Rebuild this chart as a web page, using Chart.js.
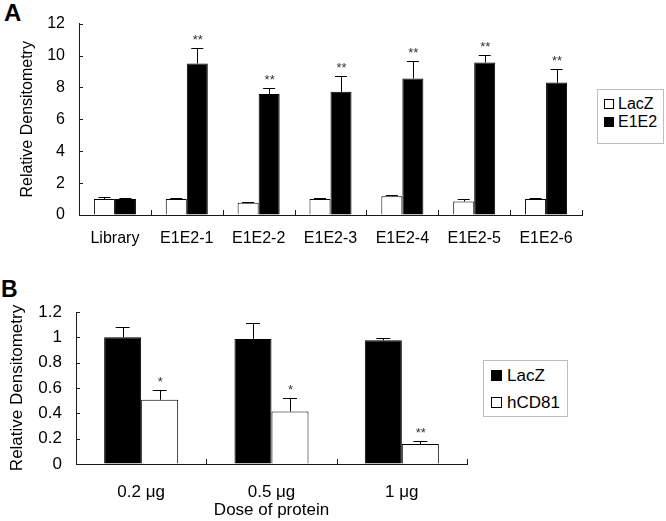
<!DOCTYPE html>
<html>
<head>
<meta charset="utf-8">
<script src="https://cdn.jsdelivr.net/npm/chart.js@4.4.2/dist/chart.umd.min.js"></script>
<style>
  html, body { margin: 0; padding: 0; background: #fff; }
  body { width: 666px; height: 521px; position: relative; overflow: hidden;
         font-family: "Liberation Sans", Arial, sans-serif; color: #000; }
  .panel { position: absolute; left: 0; width: 666px; }
  .tag { position: absolute; font-weight: bold; line-height: 1; }
  .legend { position: absolute; box-sizing: border-box; border: 1px solid #bdbdbd; background: #fff; }
  .legend .row { display: flex; align-items: center; white-space: nowrap; }
  .legend .sw { box-sizing: border-box; border: 1px solid #000; flex: none; }
</style>
</head>
<body>
<div class="tag" style="left:4px;top:1px;font-size:24px">A</div>
<div class="tag" style="left:1px;top:278px;font-size:23px">B</div>

<div class="panel" style="top:0;height:260px"><canvas id="chart-a" width="666" height="260"></canvas></div>
<div class="panel" style="top:270px;height:251px"><canvas id="chart-b" width="666" height="251"></canvas></div>

<div class="legend" id="legend-a" style="left:597px;top:89px;width:67px;height:55px;padding:5px 0 0 6px;font-size:16px;line-height:18px"></div>
<div class="legend" id="legend-b" style="left:483px;top:360px;width:85px;height:57px;padding:1px 0 0 7px;font-size:17px;line-height:27px"></div>

<script>
// ── Panel A data ─────────────────────────────────────────────────────────
const groupsA = ['Library', 'E1E2-1', 'E1E2-2', 'E1E2-3', 'E1E2-4', 'E1E2-5', 'E1E2-6'];
const lacZA = [1.0, 1.0, 0.77, 1.0, 1.17, 0.85, 1.01];
const lacZErrA = [0.15, 0.05, 0.05, 0.05, 0.1, 0.15, 0.07];
const e1e2A = [1.0, 9.5, 7.58, 7.72, 8.56, 9.56, 8.3];
const e1e2ErrA = [0.07, 1.0, 0.4, 1.0, 1.07, 0.5, 0.85];
const e1e2StarsA = ['', '**', '**', '**', '**', '**', '**'];

// ── Panel B data ─────────────────────────────────────────────────────────
const dosesB = ['0.2 μg', '0.5 μg', '1 μg'];
const lacZB = [1.0, 0.987, 0.976];
const lacZErrB = [0.085, 0.13, 0.02];
const cd81B = [0.507, 0.415, 0.158];
const cd81ErrB = [0.08, 0.11, 0.02];
const cd81StarsB = ['*', '*', '**'];

const FONT = '"Liberation Sans", Arial, sans-serif';
const AXIS = '#1a1a1a';

// error bars (upper only) + significance stars
const errorBars = {
  id: 'errorBars',
  afterDatasetsDraw(chart, args, opts) {
    const { ctx } = chart;
    const y = chart.scales.y;
    ctx.save();
    chart.data.datasets.forEach((ds, di) => {
      chart.getDatasetMeta(di).data.forEach((bar, i) => {
        const top = y.getPixelForValue(ds.data[i]);
        const end = y.getPixelForValue(ds.data[i] + ds.err[i]);
        ctx.strokeStyle = '#000';
        ctx.lineWidth = 1;
        ctx.beginPath();
        ctx.moveTo(Math.round(bar.x) + 0.5, top);
        ctx.lineTo(Math.round(bar.x) + 0.5, Math.round(end) + 0.5);
        ctx.moveTo(bar.x - opts.cap / 2, Math.round(end) + 0.5);
        ctx.lineTo(bar.x + opts.cap / 2, Math.round(end) + 0.5);
        ctx.stroke();
        const s = ds.stars && ds.stars[i];
        if (s) {
          ctx.fillStyle = '#333';
          ctx.font = `${opts.starSize}px ${FONT}`;
          ctx.textAlign = 'center';
          ctx.textBaseline = 'alphabetic';
          ctx.fillText(s, bar.x + 0.5, end - opts.starGap);
        }
      });
    });
    ctx.restore();
  },
};

// tick marks pointing into the plot
const innerTicks = {
  id: 'innerTicks',
  afterDraw(chart, args, opts) {
    const { ctx, chartArea } = chart;
    const x = chart.scales.x, y = chart.scales.y;
    ctx.save();
    ctx.strokeStyle = AXIS;
    ctx.lineWidth = 1;
    ctx.beginPath();
    y.ticks.forEach((t, i) => {
      const py = Math.round(y.getPixelForTick(i)) + 0.5;
      ctx.moveTo(chartArea.left, py);
      ctx.lineTo(chartArea.left + opts.len, py);
    });
    for (let i = 1; i <= x.ticks.length; i++) {
      const px = Math.round(x.getPixelForValue(i - 0.5)) + 0.5;
      ctx.moveTo(px, chartArea.bottom);
      ctx.lineTo(px, chartArea.bottom - opts.len - 1);
    }
    ctx.stroke();
    ctx.restore();
  },
};

function makeChart(id, cfg) {
  return new Chart(document.getElementById(id), {
    type: 'bar',
    data: { labels: cfg.labels, datasets: cfg.datasets },
    plugins: [errorBars, innerTicks],
    options: {
      responsive: false, animation: false, devicePixelRatio: 1,
      layout: { padding: cfg.padding },
      datasets: { bar: { categoryPercentage: cfg.catPct, barPercentage: 1, borderSkipped: 'bottom' } },
      plugins: {
        legend: { display: false }, tooltip: { enabled: false },
        errorBars: { cap: cfg.cap, starSize: cfg.starSize, starGap: cfg.starGap },
        innerTicks: { len: 4 },
      },
      scales: {
        x: {
          grid: { display: true, drawOnChartArea: false, drawTicks: false },
          border: { color: AXIS, width: 1 },
          ticks: { color: '#000', font: { family: FONT, size: cfg.fontSize }, padding: cfg.xPad, maxRotation: 0, autoSkip: false },
          title: cfg.xTitle ? { display: true, text: cfg.xTitle, color: '#000', font: { family: FONT, size: cfg.fontSize }, padding: { top: 0, bottom: 0 } } : { display: false },
          afterFit(s) { s.height = cfg.xHeight; },
        },
        y: {
          min: 0, max: cfg.yMax,
          grid: { display: true, drawOnChartArea: false, drawTicks: false },
          border: { color: AXIS, width: 1 },
          ticks: { stepSize: cfg.yStep, color: '#000', font: { family: FONT, size: cfg.fontSize }, padding: 14,
                   callback: v => String(Math.round(v * 10) / 10) },
          title: { display: true, text: 'Relative Densitometry', color: '#000', font: { family: FONT, size: cfg.fontSize }, padding: { top: cfg.yTitlePad, bottom: 0 } },
          afterFit(s) { s.width = cfg.yWidth; },
        },
      },
    },
  });
}

const datasetsA = [
  { label: 'LacZ', data: lacZA, err: lacZErrA, backgroundColor: '#fff', borderColor: '#000', borderWidth: 1 },
  { label: 'E1E2', data: e1e2A, err: e1e2ErrA, stars: e1e2StarsA, backgroundColor: '#000', borderColor: '#000', borderWidth: 1 },
];
const datasetsB = [
  { label: 'LacZ', data: lacZB, err: lacZErrB, backgroundColor: '#000', borderColor: '#000', borderWidth: 1 },
  { label: 'hCD81', data: cd81B, err: cd81ErrB, stars: cd81StarsB, backgroundColor: '#fff', borderColor: '#000', borderWidth: 1 },
];

makeChart('chart-a', {
  labels: groupsA, datasets: datasetsA,
  padding: { top: 17, right: 84, left: 0, bottom: 0 },
  catPct: 0.585, cap: 12, starSize: 13, starGap: 4,
  fontSize: 16, xPad: 14, xHeight: 45, yMax: 12, yStep: 2, yWidth: 79, yTitlePad: 18,
});

makeChart('chart-b', {
  labels: dosesB, datasets: datasetsB,
  padding: { top: 42, right: 199, left: 0, bottom: 0 },
  catPct: 0.568, cap: 14, starSize: 13, starGap: 4,
  fontSize: 17, xPad: 18, xHeight: 57, yMax: 1.2, yStep: 0.2, yWidth: 76, yTitlePad: 7,
  xTitle: 'Dose of protein',
});

// HTML legends built from the datasets
function buildLegend(elId, datasets, sw, gap) {
  document.getElementById(elId).innerHTML = datasets.map(d => `
    <div class="row"><span class="sw" style="width:${sw}px;height:${sw}px;background:${d.backgroundColor};margin-right:${gap}px"></span>${d.label}</div>`).join('');
}
buildLegend('legend-a', datasetsA, 10, 4);
buildLegend('legend-b', datasetsB, 11, 5);
</script>
</body>
</html>
